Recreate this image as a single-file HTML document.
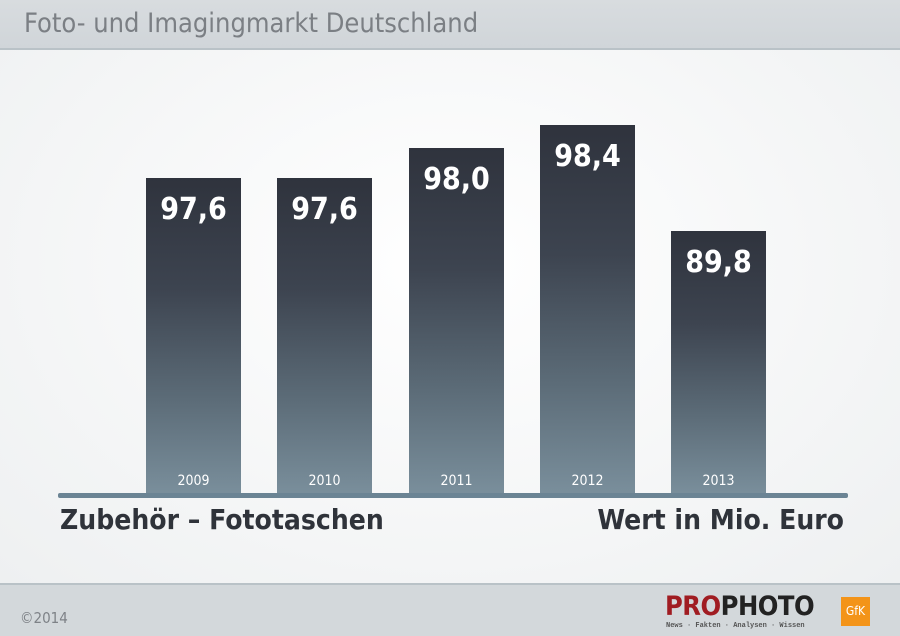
<!DOCTYPE html><html><head><style>
body{margin:0;width:900px;height:634px;overflow:hidden;font-family:"DejaVu Sans Condensed","Liberation Sans",sans-serif;background:#f3f4f5}
.hdr{position:absolute;left:0;top:0;width:900px;height:48px;background:linear-gradient(#d8dcdf,#d0d5d9);border-bottom:2px solid #b9c2c7}
.hdr span{position:absolute;left:24px;top:8px;font-size:27px;color:#7b7f84;font-stretch:condensed}
.main{position:absolute;left:0;top:50px;width:900px;height:533px;background:radial-gradient(ellipse at 50% 40%,#ffffff,#eef0f1)}
.bar{position:absolute;width:95px;bottom:139px;background:linear-gradient(#2f333d 0%,#3d4450 35%,#5c6c78 70%,#7a8f9c 100%)}
.v{position:absolute;top:14px;width:100%;text-align:center;color:#fff;font-size:30px;font-weight:bold}
.y{position:absolute;bottom:6px;width:100%;text-align:center;color:#fff;font-size:14px}
.axis{position:absolute;left:58px;top:493px;width:790px;height:5px;background:#6b8494;border-radius:2px}
.lab{position:absolute;top:503px;font-size:28px;font-weight:bold;color:#2f333a}
.ftr{position:absolute;left:0;top:583px;width:900px;height:51px;background:#d3d8db;border-top:2px solid #b9c2c7}
</style></head><body>
<div class="hdr"><span>Foto- und Imagingmarkt Deutschland</span></div>
<div class="main"></div>
<div class="bar" style="left:146px;top:178px"><div class="v">97,6</div><div class="y">2009</div></div>
<div class="bar" style="left:277px;top:178px"><div class="v">97,6</div><div class="y">2010</div></div>
<div class="bar" style="left:409px;top:148px"><div class="v">98,0</div><div class="y">2011</div></div>
<div class="bar" style="left:540px;top:125px"><div class="v">98,4</div><div class="y">2012</div></div>
<div class="bar" style="left:671px;top:231px"><div class="v">89,8</div><div class="y">2013</div></div>
<div class="axis"></div>
<div class="lab" style="left:60px">Zubehör – Fototaschen</div>
<div class="lab" style="right:56px">Wert in Mio. Euro</div>
<div class="ftr">
<span style="position:absolute;left:20px;top:24px;font-size:15px;color:#7e8287">©2014</span>
<span style="position:absolute;left:665px;top:6px;font-size:27px;font-weight:bold;letter-spacing:-0.5px"><span style="color:#a01c22">PRO</span><span style="color:#222">PHOTO</span></span>
<span style="position:absolute;left:666px;top:37px;font-size:7px;color:#555;font-family:'Liberation Mono',monospace;font-weight:bold">News · Fakten · Analysen · Wissen</span>
<div style="position:absolute;left:841px;top:12px;width:29px;height:29px;background:#f39419;color:#fff;font-size:12px;text-align:center;line-height:29px">GfK</div>
</div>
</body></html>
